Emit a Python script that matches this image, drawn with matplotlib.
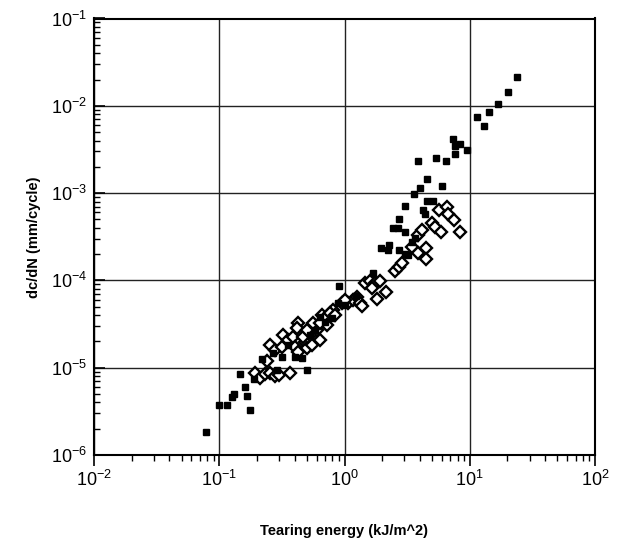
import matplotlib
matplotlib.use("Agg")
import matplotlib.pyplot as plt
from matplotlib.ticker import LogLocator, FixedLocator, NullFormatter

plt.rcParams['font.family'] = ['Liberation Sans', 'DejaVu Sans']
plt.rcParams['mathtext.fontset'] = 'custom'
plt.rcParams['mathtext.rm'] = 'Liberation Sans'
plt.rcParams['mathtext.it'] = 'Liberation Sans:italic'
plt.rcParams['mathtext.bf'] = 'Liberation Sans:bold'

# Filled squares: tearing energy (kJ/m^2), dc/dN (mm/cycle)
sq_x = [0.078, 0.100, 0.115, 0.126, 0.131, 0.146, 0.160, 0.166, 0.176, 0.189,
        0.219, 0.268, 0.316, 0.40, 0.457, 0.289, 0.50, 0.58, 0.64, 0.79,
        0.885, 1.0, 0.90, 1.69, 1.95, 2.22, 2.26, 2.72, 3.03, 3.2,
        3.65, 3.45, 2.43, 2.67, 3.03, 2.72, 4.2, 4.4, 3.03, 4.55,
        5.08, 3.58, 4.0, 5.98, 4.55, 3.85, 5.36, 6.45, 7.33, 8.3,
        7.6, 9.5, 7.6, 11.4, 13.0, 14.2, 16.8, 20.1, 23.8, 0.353,
        0.53, 0.70, 1.23]
sq_y = [1.83e-6, 3.74e-6, 3.74e-6, 4.6e-6, 5.0e-6, 8.5e-6, 6.0e-6, 4.7e-6, 3.3e-6, 7.4e-6,
        1.26e-5, 1.47e-5, 1.33e-5, 1.33e-5, 1.29e-5, 9.4e-6, 9.4e-6, 2.7e-5, 3.8e-5, 3.7e-5,
        5.5e-5, 5.2e-5, 8.6e-5, 1.2e-4, 2.35e-4, 2.23e-4, 2.54e-4, 2.23e-4, 2.0e-4, 1.95e-4,
        3.06e-4, 2.75e-4, 3.98e-4, 3.98e-4, 3.58e-4, 5.05e-4, 6.4e-4, 5.8e-4, 7.1e-4, 8.1e-4,
        8.1e-4, 9.8e-4, 1.14e-3, 1.2e-3, 1.45e-3, 2.33e-3, 2.5e-3, 2.33e-3, 4.2e-3, 3.65e-3,
        3.47e-3, 3.1e-3, 2.8e-3, 7.4e-3, 5.9e-3, 8.5e-3, 1.05e-2, 1.44e-2, 2.14e-2, 1.82e-5,
        2.37e-5, 3.34e-5, 6.6e-5]

# Open diamonds
di_x = [0.193, 0.211, 0.232, 0.254, 0.279, 0.30, 0.366, 0.24, 0.254, 0.279,
        0.316, 0.322, 0.353, 0.387, 0.425, 0.402, 0.425, 0.483, 0.50, 0.55,
        0.55, 0.60, 0.64, 0.66, 0.70, 0.72, 0.466, 0.417, 0.50, 0.56,
        0.64, 0.81, 0.76, 0.84, 0.95, 1.06, 1.17, 1.25, 1.33, 1.38,
        1.0, 1.46, 1.6, 1.75, 1.92, 1.66, 1.81, 2.14, 2.52, 2.72,
        2.87, 3.45, 3.85, 4.47, 4.47, 3.85, 4.15, 4.99, 5.26, 5.88,
        5.66, 6.56, 6.68, 7.46, 8.34]
di_y = [8.7e-6, 7.6e-6, 8.5e-6, 8.7e-6, 8.0e-6, 8.2e-6, 8.7e-6, 1.19e-5, 1.82e-5, 1.6e-5,
        1.73e-5, 2.37e-5, 2.07e-5, 2.25e-5, 3.25e-5, 1.73e-5, 1.51e-5, 1.97e-5, 1.68e-5, 1.82e-5,
        2.5e-5, 2.7e-5, 2.07e-5, 4.0e-5, 3.7e-5, 3.1e-5, 2.25e-5, 2.85e-5, 2.7e-5, 3.25e-5,
        3.25e-5, 4.6e-5, 4.2e-5, 4.0e-5, 5.5e-5, 5.5e-5, 6.0e-5, 6.5e-5, 5.5e-5, 5.1e-5,
        6.0e-5, 9.3e-5, 9.8e-5, 9.3e-5, 9.8e-5, 8.2e-5, 6.1e-5, 7.4e-5, 1.28e-4, 1.43e-4,
        1.58e-4, 2.4e-4, 2.06e-4, 2.35e-4, 1.76e-4, 3.3e-4, 3.78e-4, 4.55e-4, 4.1e-4, 3.58e-4,
        6.4e-4, 6.9e-4, 5.8e-4, 4.9e-4, 3.58e-4]

x_ticks = [1e-2, 1e-1, 1e0, 1e1, 1e2]
x_tick_labels = [r'$10^{-2}$', r'$10^{-1}$', r'$10^{0}$', r'$10^{1}$', r'$10^{2}$']
y_ticks = [1e-6, 1e-5, 1e-4, 1e-3, 1e-2, 1e-1]
y_tick_labels = [r'$10^{-6}$', r'$10^{-5}$', r'$10^{-4}$', r'$10^{-3}$', r'$10^{-2}$', r'$10^{-1}$']

fig = plt.figure(figsize=(6.21, 5.46), dpi=100)
ax = fig.add_axes([94/621, 91/546, 501/621, 436.5/546])
ax.set_xscale('log')
ax.set_yscale('log')
ax.set_xlim(1e-2, 1e2)
ax.set_ylim(1e-6, 1e-1)

ax.grid(True, which='major', color='#222222', linewidth=1.0)
ax.set_axisbelow(True)

ax.plot(di_x, di_y, linestyle='none', marker='D', markersize=5.8,
        markerfacecolor='white', markeredgecolor='black', markeredgewidth=1.7, zorder=3)
ax.plot(sq_x, sq_y, linestyle='none', marker='s', markersize=4.8,
        markerfacecolor='black', markeredgecolor='black', zorder=4)

ax.xaxis.set_major_locator(FixedLocator(x_ticks))
ax.set_xticklabels(x_tick_labels)
ax.yaxis.set_major_locator(FixedLocator(y_ticks))
ax.set_yticklabels(y_tick_labels)
ax.xaxis.set_minor_locator(LogLocator(base=10, subs=range(2, 10), numticks=20))
ax.yaxis.set_minor_locator(LogLocator(base=10, subs=range(2, 10), numticks=20))
ax.xaxis.set_minor_formatter(NullFormatter())
ax.yaxis.set_minor_formatter(NullFormatter())

ax.tick_params(axis='x', which='major', direction='out', length=8, width=1.2,
               labelsize=13, pad=3)
ax.tick_params(axis='x', which='minor', direction='out', length=4, width=1.0)
ax.tick_params(axis='y', which='major', direction='in', length=8, width=1.2,
               labelsize=13, pad=5)
ax.tick_params(axis='y', which='minor', direction='in', length=4, width=1.0)

for s in ax.spines.values():
    s.set_linewidth(1.5)
    s.set_color('black')

ax.set_xlabel('Tearing energy (kJ/m^2)', fontsize=10.5, fontweight='bold', labelpad=24)
ax.set_ylabel('dc/dN (mm/cycle)', fontsize=10.5, fontweight='bold', labelpad=7)

fig.savefig('out.png', dpi=100)
